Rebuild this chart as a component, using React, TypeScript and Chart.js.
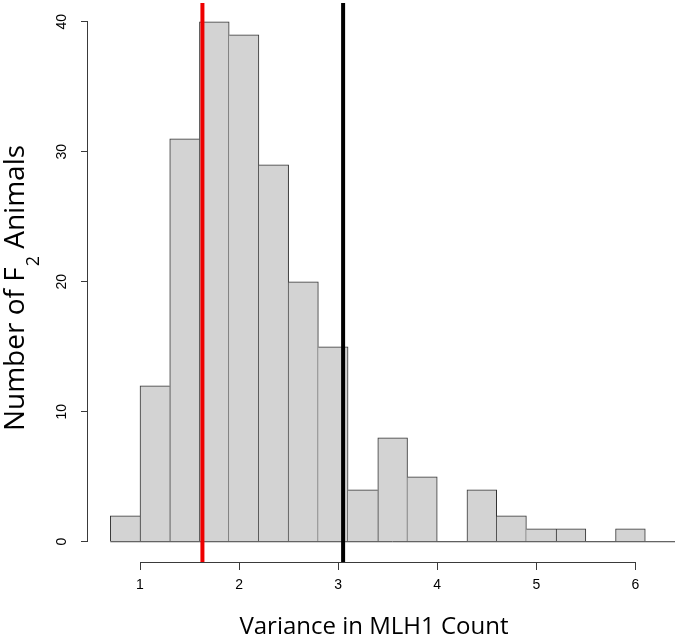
import React, { useEffect, useRef } from "react";
import { Chart, registerables } from "chart.js";

Chart.register(...registerables);

// ---- data ----
const binCenters = [0.85, 1.15, 1.45, 1.75, 2.05, 2.35, 2.65, 2.95, 3.25, 3.55, 3.85, 4.15, 4.45, 4.75, 5.05, 5.35, 5.65, 5.95];
const counts = [2, 12, 31, 40, 39, 29, 20, 15, 4, 8, 5, 0, 4, 2, 1, 1, 0, 1];
const xTickValues = [1, 2, 3, 4, 5, 6];
const yTickValues = [0, 10, 20, 30, 40];
const redLineX = 1.63;
const blackLineX = 3.05;
const baselineStartX = 0.7;
const xTitle = "Variance in MLH1 Count";
const yTitleMain = "Number of F";
const yTitleSub = "2";
const yTitleRest = " Animals";

// ---- scale extents (plot region) ----
const X_MIN = 0.475;
const X_MAX = 6.4;
const Y_MIN = -1.56;
const Y_MAX = 41.44;

const AXIS_COLOR = "#3a3a3a";
const BAR_BORDER = "#333333";
const TITLE_FONT = '"Open Sans", "Noto Sans", sans-serif';

const rStylePlugin = {
  id: "rStyle",
  afterDraw(chart: any) {
    const { ctx, chartArea, scales } = chart;
    const x = scales.x;
    const y = scales.y;
    ctx.save();
    // partial axis lines (R style)
    ctx.strokeStyle = AXIS_COLOR;
    ctx.lineWidth = 1;
    ctx.beginPath();
    const yb = Math.round(chartArea.bottom) + 0.5;
    ctx.moveTo(x.getPixelForValue(xTickValues[0]), yb);
    ctx.lineTo(x.getPixelForValue(xTickValues[xTickValues.length - 1]), yb);
    const xl = Math.round(chartArea.left) - 0.5;
    ctx.moveTo(xl, y.getPixelForValue(yTickValues[0]));
    ctx.lineTo(xl, y.getPixelForValue(yTickValues[yTickValues.length - 1]));
    ctx.stroke();

    // x title
    ctx.fillStyle = "#000";
    ctx.font = `24px ${TITLE_FONT}`;
    ctx.textAlign = "center";
    ctx.textBaseline = "alphabetic";
    ctx.fillText(xTitle, 374, 634);

    // y title with subscript
    const mainFont = `28px ${TITLE_FONT}`;
    const subFont = `18px ${TITLE_FONT}`;
    ctx.font = mainFont;
    const w1 = ctx.measureText(yTitleMain).width;
    const w3 = ctx.measureText(yTitleRest).width;
    ctx.font = subFont;
    const w2 = ctx.measureText(yTitleSub).width;
    const total = w1 + w2 + 1 + w3;
    ctx.translate(24, 288);
    ctx.rotate(-Math.PI / 2);
    ctx.textAlign = "left";
    let pos = -total / 2;
    ctx.font = mainFont;
    ctx.fillText(yTitleMain, pos, 0);
    pos += w1 + 1;
    ctx.font = subFont;
    ctx.fillText(yTitleSub, pos, 15);
    pos += w2;
    ctx.font = mainFont;
    ctx.fillText(yTitleRest, pos, 0);
    ctx.restore();
  },
};

export default function App() {
  const canvasRef = useRef<HTMLCanvasElement | null>(null);

  useEffect(() => {
    const canvas = canvasRef.current;
    if (!canvas) return;

    const barData = binCenters.map((c, i) => ({ x: c, y: counts[i] }));

    const chart = new Chart(canvas, {
      type: "bar",
      data: {
        datasets: [
          {
            type: "line",
            label: "red",
            data: [
              { x: redLineX, y: Y_MIN },
              { x: redLineX, y: Y_MAX },
            ],
            borderColor: "#ee0000",
            borderWidth: 4,
            pointRadius: 0,
            borderCapStyle: "butt",
            order: 0,
          } as any,
          {
            type: "line",
            label: "black",
            data: [
              { x: blackLineX, y: Y_MIN },
              { x: blackLineX, y: Y_MAX },
            ],
            borderColor: "#000000",
            borderWidth: 4,
            pointRadius: 0,
            borderCapStyle: "butt",
            order: 0,
          } as any,
          {
            type: "line",
            label: "baseline",
            data: [
              { x: baselineStartX, y: 0 },
              { x: X_MAX, y: 0 },
            ],
            borderColor: AXIS_COLOR,
            borderWidth: 1,
            pointRadius: 0,
            order: 1,
          } as any,
          {
            type: "bar",
            label: "count",
            data: barData,
            backgroundColor: "#d3d3d3",
            borderColor: BAR_BORDER,
            borderWidth: (ctx: any) => {
              const i = ctx.dataIndex;
              const c = counts[i] ?? 0;
              const prev = i > 0 ? counts[i - 1] : 0;
              const next = i < counts.length - 1 ? counts[i + 1] : 0;
              return {
                top: c > 0 ? 1 : 0,
                left: c > 0 && c >= prev ? 1 : 0,
                right: c > next ? 1 : 0,
                bottom: 0,
              };
            },
            borderSkipped: false,
            barPercentage: 1,
            categoryPercentage: 1,
            order: 2,
          } as any,
        ],
      },
      options: {
        responsive: false,
        animation: false,
        events: [],
        layout: { padding: { top: 3, right: 2, left: 0, bottom: 0 } },
        plugins: {
          legend: { display: false },
          tooltip: { enabled: false },
          title: { display: false },
        },
        scales: {
          x: {
            type: "linear",
            min: X_MIN,
            max: X_MAX,
            offset: false,
            grid: {
              offset: false,
              drawOnChartArea: false,
              drawTicks: true,
              tickLength: 8,
              color: AXIS_COLOR,
            },
            border: { display: false },
            ticks: {
              color: "#000",
              padding: 7,
              maxRotation: 0,
              autoSkip: false,
              font: { family: '"Liberation Sans", Arial, sans-serif', size: 14 },
            },
            afterBuildTicks: (scale: any) => {
              scale.ticks = xTickValues.map((v) => ({ value: v }));
            },
            afterFit: (scale: any) => {
              scale.height = 77;
              scale.paddingLeft = 0;
              scale.paddingRight = 0;
            },
          },
          y: {
            type: "linear",
            min: Y_MIN,
            max: Y_MAX,
            grid: {
              drawOnChartArea: false,
              drawTicks: true,
              tickLength: 7,
              color: AXIS_COLOR,
            },
            border: { display: false },
            ticks: {
              color: "#000",
              padding: 11,
              minRotation: 90,
              maxRotation: 90,
              crossAlign: "center",
              autoSkip: false,
              font: { family: '"Liberation Sans", Arial, sans-serif', size: 14 },
            },
            afterBuildTicks: (scale: any) => {
              scale.ticks = yTickValues.map((v) => ({ value: v }));
            },
            afterFit: (scale: any) => {
              scale.width = 88;
              scale.paddingTop = 0;
              scale.paddingBottom = 0;
            },
          },
        },
      } as any,
      plugins: [rStylePlugin],
    });

    return () => {
      chart.destroy();
    };
  }, []);

  return (
    <div style={{ position: "absolute", left: 0, top: 0, width: 677, height: 639, background: "#fff" }}>
      <canvas ref={canvasRef} width={677} height={639} />
    </div>
  );
}
